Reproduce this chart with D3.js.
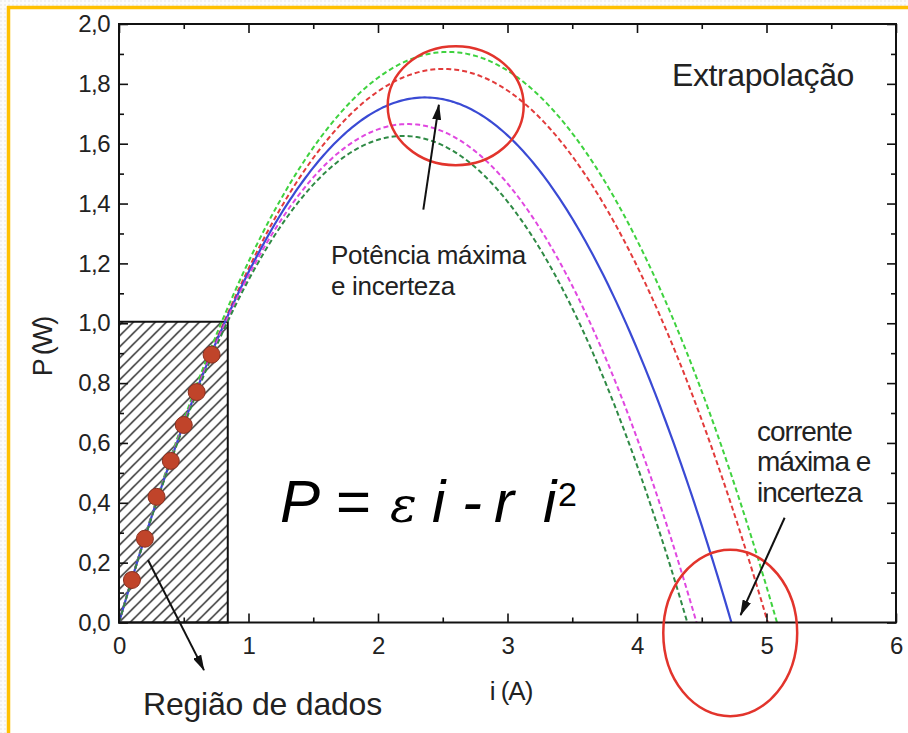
<!DOCTYPE html>
<html>
<head>
<meta charset="utf-8">
<script src="https://cdn.jsdelivr.net/npm/d3@7"></script>
<style>
  html, body { margin: 0; padding: 0; background: #fff; }
  svg { display: block; font-family: "Liberation Sans", Arial, sans-serif; }
</style>
</head>
<body>
<svg id="chart" width="908" height="733"></svg>
<script>
// Measured points inside the data region: current (A) and power (W)
const dataCurrent = [0.10, 0.20, 0.29, 0.40, 0.50, 0.60, 0.715];
const dataPower   = [0.142, 0.28, 0.42, 0.54, 0.66, 0.77, 0.895];

// Fitted curve P = e*i - r*i^2 and the uncertainty envelope
const curveNames  = ["sup2", "sup1", "ajuste", "inf1", "inf2"];
const curveEmf    = [1.501, 1.477, 1.484, 1.494, 1.482];   // ε (V)
const curveRes    = [0.2954, 0.2948, 0.3138, 0.335, 0.3377]; // r (Ω)
const curveColor  = ["#3fd23f", "#e23b3b", "#3a4ad4", "#e048e0", "#2f8a45"];
const curveDashed = [true, true, false, true, true];

// Axis ticks
const xTicks = [0, 1, 2, 3, 4, 5, 6];
const yTicks = [0, 0.2, 0.4, 0.6, 0.8, 1.0, 1.2, 1.4, 1.6, 1.8, 2.0];

// Data region box (A, W)
const regionI = [0, 0.84];
const regionP = [0, 1.005];

const svg = d3.select("#chart");
const W = 908, H = 733;
const mLeft = 119, mRight = 896, mTop = 24, mBottom = 622.5;

const x = d3.scaleLinear().domain([0, 6]).range([mLeft, mRight]);
const y = d3.scaleLinear().domain([0, 2]).range([mBottom, mTop]);

const fmt = d3.formatLocale({decimal: ",", thousands: ".", grouping: [3], currency: ["", ""]});
const yFmt = fmt.format(".1f");

// page background and frame
svg.append("rect").attr("width", W).attr("height", H).attr("fill", "#fff");
const defs = svg.append("defs");
const tex = defs.append("pattern").attr("id", "tex").attr("width", 4).attr("height", 4)
  .attr("patternUnits", "userSpaceOnUse");
tex.append("rect").attr("width", 4).attr("height", 4).attr("fill", "#fbfbfb");
tex.append("circle").attr("cx", 1).attr("cy", 1).attr("r", 0.8).attr("fill", "#e2e2e2");
svg.append("rect").attr("x", 0).attr("y", 0).attr("width", W).attr("height", 6).attr("fill", "url(#tex)");
svg.append("rect").attr("x", 0).attr("y", 0).attr("width", 7).attr("height", H).attr("fill", "url(#tex)");
svg.append("line").attr("x1", 7).attr("x2", W).attr("y1", 7.5).attr("y2", 7.5)
  .attr("stroke", "#ffc000").attr("stroke-width", 3.5);
svg.append("line").attr("x1", 8.5).attr("x2", 8.5).attr("y1", 6).attr("y2", H)
  .attr("stroke", "#ffc000").attr("stroke-width", 3.5);

// hatch pattern for the data region
const hatch = defs.append("pattern").attr("id", "hatch").attr("width", 11).attr("height", 11)
  .attr("patternUnits", "userSpaceOnUse").attr("patternTransform", "translate(" + x(0) + "," + y(0) + ")");
hatch.append("path").attr("d", "M-1,1 l2,-2 M0,11 l11,-11 M10,12 l2,-2")
  .attr("stroke", "#222").attr("stroke-width", 1.4);

svg.append("rect")
  .attr("x", x(regionI[0])).attr("y", y(regionP[1]))
  .attr("width", x(regionI[1]) - x(regionI[0]))
  .attr("height", y(regionP[0]) - y(regionP[1]))
  .attr("fill", "url(#hatch)").attr("stroke", "#111").attr("stroke-width", 2);

// curves
const line = d3.line().x(d => x(d[0])).y(d => y(d[1]));
curveNames.forEach((name, k) => {
  const e = curveEmf[k], r = curveRes[k];
  const iMax = e / r;
  const pts = d3.range(0, iMax, 0.02).map(i => [i, e * i - r * i * i]);
  pts.push([iMax, 0]);
  svg.append("path").datum(pts)
    .attr("class", "curve " + name)
    .attr("d", line)
    .attr("fill", "none")
    .attr("stroke", curveColor[k])
    .attr("stroke-width", curveDashed[k] ? 2 : 2.2)
    .attr("stroke-dasharray", curveDashed[k] ? "5,3" : null);
});

// measured points
svg.append("g").selectAll("circle")
  .data(dataCurrent.map((c, k) => [c, dataPower[k]]))
  .join("circle")
  .attr("cx", d => x(d[0])).attr("cy", d => y(d[1])).attr("r", 8.5)
  .attr("fill", "#c0442a").attr("stroke", "#8a3020").attr("stroke-width", 1);

// frame and axes (ticks inward on all four sides)
const minorX = d3.range(0.5, 6, 1);
const minorY = d3.range(0.1, 2.0, 0.2);
function styleAxis(g) {
  g.select(".domain").remove();
  g.selectAll(".tick line").attr("stroke", "#111").attr("stroke-width", 1.6);
  g.selectAll(".tick text").attr("fill", "#222").attr("font-size", 24)
    .attr("letter-spacing", -0.5)
    .attr("font-family", "Liberation Sans, Arial, sans-serif");
}
svg.append("g").attr("transform", `translate(0,${mBottom})`)
  .call(d3.axisBottom(x).tickValues(xTicks).tickSize(-9).tickPadding(14).tickFormat(d3.format("d")))
  .call(styleAxis);
svg.append("g").attr("transform", `translate(0,${mBottom})`)
  .call(d3.axisBottom(x).tickValues(minorX).tickSize(-5).tickFormat(""))
  .call(styleAxis);
svg.append("g").attr("transform", `translate(0,${mTop})`)
  .call(d3.axisTop(x).tickValues(xTicks).tickSize(-9).tickFormat(""))
  .call(styleAxis);
svg.append("g").attr("transform", `translate(0,${mTop})`)
  .call(d3.axisTop(x).tickValues(minorX).tickSize(-5).tickFormat(""))
  .call(styleAxis);
svg.append("g").attr("transform", `translate(${mLeft},0)`)
  .call(d3.axisLeft(y).tickValues(yTicks).tickSize(-9).tickPadding(9).tickFormat(yFmt))
  .call(styleAxis);
svg.append("g").attr("transform", `translate(${mLeft},0)`)
  .call(d3.axisLeft(y).tickValues(minorY).tickSize(-5).tickFormat(""))
  .call(styleAxis);
svg.append("g").attr("transform", `translate(${mRight},0)`)
  .call(d3.axisRight(y).tickValues(yTicks).tickSize(-9).tickFormat(""))
  .call(styleAxis);
svg.append("g").attr("transform", `translate(${mRight},0)`)
  .call(d3.axisRight(y).tickValues(minorY).tickSize(-5).tickFormat(""))
  .call(styleAxis);

svg.append("rect").attr("x", mLeft).attr("y", mTop)
  .attr("width", mRight - mLeft).attr("height", mBottom - mTop)
  .attr("fill", "none").attr("stroke", "#111").attr("stroke-width", 2);

// axis titles
svg.append("text").attr("x", 511).attr("y", 700).attr("text-anchor", "middle")
  .attr("font-size", 26).attr("letter-spacing", -1).attr("fill", "#222").text("i (A)");
svg.append("text").attr("transform", "translate(52,347) rotate(-90)").attr("text-anchor", "middle")
  .attr("font-size", 27).attr("letter-spacing", -2).attr("fill", "#222").text("P (W)");

// annotation ellipses
const ellipses = [
  {ci: 2.60, cp: 1.727, ri: 0.525, rp: 0.199},
  {ci: 4.72, cp: -0.035, ri: 0.517, rp: 0.278}
];
svg.append("g").selectAll("ellipse").data(ellipses).join("ellipse")
  .attr("cx", d => x(d.ci)).attr("cy", d => y(d.cp))
  .attr("rx", d => x(d.ri) - x(0)).attr("ry", d => y(0) - y(d.rp))
  .attr("fill", "none").attr("stroke", "#e2342c").attr("stroke-width", 2.5);

// annotation arrows
defs.append("marker").attr("id", "head").attr("viewBox", "0 0 16 9")
  .attr("refX", 15).attr("refY", 4.5).attr("markerWidth", 16).attr("markerHeight", 9)
  .attr("markerUnits", "userSpaceOnUse").attr("orient", "auto")
  .append("path").attr("d", "M0,0 L16,4.5 L0,9 Z").attr("fill", "#111");
const arrows = [
  {i0: 2.35, p0: 1.38, i1: 2.47, p1: 1.73},
  {i0: 5.14, p0: 0.35, i1: 4.80, p1: 0.025},
  {i0: 0.224, p0: 0.209, i1: 0.656, p1: -0.159}
];
svg.append("g").selectAll("line").data(arrows).join("line")
  .attr("x1", d => x(d.i0)).attr("y1", d => y(d.p0))
  .attr("x2", d => x(d.i1)).attr("y2", d => y(d.p1))
  .attr("stroke", "#111").attr("stroke-width", 2).attr("marker-end", "url(#head)");

// annotation texts
const txt = (xx, yy, s, size, ls) => svg.append("text").attr("x", xx).attr("y", yy)
  .attr("font-size", size).attr("letter-spacing", ls).attr("fill", "#222").text(s);
txt(672, 86, "Extrapolação", 32, -0.4);
txt(331, 264, "Potência máxima", 26, -0.3);
txt(331, 295, "e incerteza", 26, -0.3);
txt(757, 441, "corrente", 28, -1);
txt(757, 471, "máxima e", 28, -1);
txt(757, 502, "incerteza", 28, -1);
txt(143, 715, "Região de dados", 32, -0.2);

// model equation
const eq = svg.append("g").attr("font-style", "italic").attr("font-size", 60).attr("fill", "#000");
eq.append("text").attr("x", 280).attr("y", 522).text("P");
eq.append("text").attr("x", 336).attr("y", 522).attr("font-style", "normal").text("=");
eq.append("text").attr("x", 390).attr("y", 522).attr("font-family", "DejaVu Serif, serif").attr("font-size", 50).text("ε");
eq.append("text").attr("x", 432).attr("y", 522).text("i");
eq.append("text").attr("x", 462).attr("y", 522).text("-");
eq.append("text").attr("x", 494).attr("y", 522).text("r");
eq.append("text").attr("x", 543).attr("y", 522).text("i");
eq.append("text").attr("x", 558).attr("y", 506).attr("font-style", "normal").attr("font-size", 34).text("2");
</script>
</body>
</html>
